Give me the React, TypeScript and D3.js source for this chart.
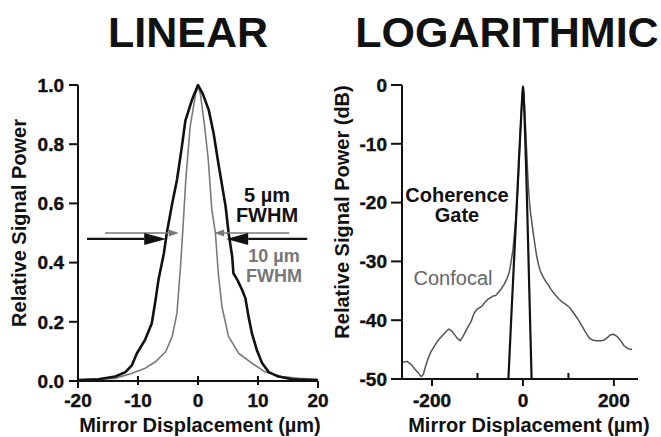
import * as d3 from "d3";

// left panel: normalised signal vs mirror displacement (µm)
const linBlack: [number, number][] = [
  [-20, 0.003], [-16.6, 0.006], [-13.8, 0.015], [-12.1, 0.03], [-11, 0.054], [-10.2, 0.093],
  [-8.8, 0.14], [-7.7, 0.195], [-7.1, 0.27], [-6.6, 0.34], [-5.7, 0.43], [-5.2, 0.5],
  [-4.3, 0.6], [-3.5, 0.68], [-2.7, 0.79], [-2.1, 0.88], [-1.0, 0.95], [0, 1.0],
  [0.8, 0.97], [1.8, 0.915], [2.6, 0.837], [3.4, 0.735], [4.6, 0.59], [5.1, 0.5],
  [5.7, 0.42], [5.9, 0.364], [6.6, 0.34], [7.3, 0.31], [7.9, 0.28], [8.4, 0.22], [9.0, 0.16],
  [9.8, 0.105], [10.7, 0.06], [11.8, 0.03], [13.4, 0.015], [15.7, 0.006], [20, 0.002],
];
const linGray: [number, number][] = [
  [-20, 0.003], [-13.8, 0.009], [-11, 0.026], [-8.8, 0.043], [-7.1, 0.065], [-5.4, 0.099],
  [-4.3, 0.15], [-3.5, 0.23], [-2.9, 0.39], [-2.5, 0.52], [-2.0, 0.69], [-1.3, 0.86],
  [-0.4, 0.97], [0, 0.995], [0.4, 0.97], [1.1, 0.86], [1.7, 0.75], [2.3, 0.58], [2.9, 0.5],
  [3.4, 0.36], [4.0, 0.25], [5.1, 0.15], [6.8, 0.093], [9.0, 0.06], [11.2, 0.03],
  [14, 0.015], [16.8, 0.009], [20, 0.006],
];
// FWHM arrows: [tail x, tip x, y]
const blackArrows: [number, number, number][] = [[-18.5, -5.3, 0.48], [18.2, 4.7, 0.48]];
const grayArrows: [number, number, number][] = [[-15.5, -3.2, 0.5], [15.2, 2.7, 0.5]];

// right panel: dB vs mirror displacement (µm)
const confocal: [number, number][] = [
  [-266, -47.2], [-255, -47.0], [-245, -47.6], [-238, -48.3], [-230, -49.0], [-224, -49.6],
  [-219, -49.2], [-214, -47.8], [-208, -46.4], [-202, -45.3], [-196, -44.6], [-190, -43.8],
  [-184, -43.2], [-177, -42.6], [-170, -42.0], [-163, -41.5], [-157, -41.8], [-150, -42.5],
  [-144, -43.1], [-138, -43.5], [-132, -42.8], [-126, -41.9], [-120, -41.0], [-114, -40.2],
  [-108, -38.9], [-102, -38.2], [-96, -37.9], [-90, -37.6], [-84, -37.0], [-78, -36.5],
  [-72, -36.2], [-66, -35.9], [-60, -35.8], [-54, -35.3], [-48, -34.7], [-42, -34.0],
  [-36, -33.1], [-30, -31.8], [-26, -30.0], [-22, -28.0], [-19, -25.5], [-16, -23.0],
  [-14, -21.0], [-12, -18.5], [-10, -15.5], [-8, -12.0], [-6, -8.5], [-4, -5.0], [-2, -2.0],
  [0, -0.2], [1, -0.5], [3, -3.0], [5, -6.0], [7, -9.5], [9, -12.5], [11, -16.0],
  [13, -18.5], [15, -20.5], [18, -22.5], [22, -24.8], [26, -27.0], [30, -29.0], [34, -30.5],
  [38, -31.6], [44, -32.6], [50, -33.4], [56, -34.0], [62, -34.8], [70, -35.6], [78, -36.3],
  [86, -36.9], [94, -37.3], [102, -37.8], [110, -38.6], [118, -39.5], [124, -40.2],
  [130, -41.0], [136, -41.8], [142, -42.6], [148, -43.2], [155, -43.4], [162, -43.5],
  [170, -43.5], [178, -43.4], [185, -43.0], [192, -42.5], [198, -42.4], [204, -42.6],
  [210, -43.0], [216, -43.6], [222, -44.3], [228, -44.7], [234, -44.9], [240, -45.0],
];
const coherence: [number, number][] = [
  [-32, -50], [-26, -40], [-20, -30.5], [-14, -21], [-9, -13], [-5, -7], [-2, -2.5], [0, -0.3],
  [1.5, -1.5], [3, -4.5], [5, -9], [8, -17], [11, -26], [14, -35], [17, -44], [19, -50],
];

const linXTicks = [-20, -10, 0, 10, 20];
const linYTicks = [0, 0.2, 0.4, 0.6, 0.8, 1.0];
const logXMajor = [-200, 0, 200];
const logXMinor = [-100, 100];
const logYTicks = [0, -10, -20, -30, -40, -50];

const FONT = "'Liberation Sans', Arial, Helvetica, sans-serif";

const Arrow = ({ x1, x2, y, color, len, half, width }: any) => {
  const dir = x2 > x1 ? 1 : -1;
  const base = x2 - dir * len;
  return (
    <g>
      <line x1={x1} y1={y} x2={base} y2={y} stroke={color} strokeWidth={width} />
      <polygon points={`${x2},${y} ${base},${y - half} ${base},${y + half}`} fill={color} />
    </g>
  );
};

export default function App() {
  const lx = d3.scaleLinear().domain([-20, 20]).range([78, 318]);
  const ly = d3.scaleLinear().domain([0, 1]).range([381, 85]);
  const rx = d3.scaleLinear().domain([-266, 253]).range([402, 638]);
  const ry = d3.scaleLinear().domain([-50, 0]).range([379, 85]);

  const lLine = d3.line<[number, number]>().x((d) => lx(d[0])).y((d) => ly(d[1]));
  const rLine = d3.line<[number, number]>().x((d) => rx(d[0])).y((d) => ry(d[1]));

  const tick = {
    fontFamily: FONT, fontWeight: 700, fontSize: 19, fill: "#111",
    stroke: "#111", strokeWidth: 0.4,
  };
  const title = { fontFamily: FONT, fontWeight: 700, fontSize: 20, fill: "#111" };

  return (
    <svg
      width={661}
      height={437}
      style={{ position: "absolute", left: 0, top: 0, background: "#fff" }}
    >
      <text x={188} y={47} textAnchor="middle" style={{ ...title, fontSize: 43 }}>LINEAR</text>
      <text x={507} y={47} textAnchor="middle" style={{ ...title, fontSize: 43 }}>LOGARITHMIC</text>

      {/* left panel */}
      <path d={lLine(linGray)!} fill="none" stroke="#7a7a7a" strokeWidth={1.6} />
      <path d={lLine(linBlack)!} fill="none" stroke="#111" strokeWidth={2.6} strokeLinejoin="round" />
      {grayArrows.map((a, i) => (
        <Arrow key={"g" + i} x1={lx(a[0])} x2={lx(a[1])} y={ly(a[2])} color="#777" len={10} half={3.5} width={1.6} />
      ))}
      {blackArrows.map((a, i) => (
        <Arrow key={"b" + i} x1={lx(a[0])} x2={lx(a[1])} y={ly(a[2])} color="#111" len={22} half={6} width={2.2} />
      ))}
      <line x1={78} y1={ly(1)} x2={78} y2={381} stroke="#111" strokeWidth={2} />
      <line x1={77} y1={381} x2={318} y2={381} stroke="#111" strokeWidth={2} />
      {linYTicks.map((t) => (
        <g key={t}>
          <line x1={69} x2={78} y1={ly(t)} y2={ly(t)} stroke="#111" strokeWidth={2} />
          <text x={64} y={ly(t)} dy="0.36em" textAnchor="end" style={tick}>{d3.format(".1f")(t)}</text>
        </g>
      ))}
      {linXTicks.map((t) => (
        <g key={t}>
          <line x1={lx(t)} x2={lx(t)} y1={Math.abs(t) === 20 ? 381 : 376} y2={Math.abs(t) === 20 ? 388 : 385} stroke="#111" strokeWidth={2} />
          <text x={lx(t)} y={407} textAnchor="middle" style={tick}>{t}</text>
        </g>
      ))}
      <text x={200} y={432} textAnchor="middle" style={title}>Mirror Displacement (µm)</text>
      <text transform="translate(26,223) rotate(-90)" textAnchor="middle" style={title}>Relative Signal Power</text>
      <text x={267} y={202} textAnchor="middle" style={title}>5 µm</text>
      <text x={267} y={222} textAnchor="middle" style={title}>FWHM</text>
      <text x={274} y={262} textAnchor="middle" style={{ ...title, fontSize: 18, fill: "#777" }}>10 µm</text>
      <text x={274} y={282} textAnchor="middle" style={{ ...title, fontSize: 18, fill: "#777" }}>FWHM</text>

      {/* right panel */}
      <path d={rLine(confocal)!} fill="none" stroke="#555" strokeWidth={1.5} strokeLinejoin="round" />
      <path d={rLine(coherence)!} fill="none" stroke="#111" strokeWidth={2.2} strokeLinejoin="round" />
      <line x1={402} y1={ry(0)} x2={402} y2={379} stroke="#111" strokeWidth={2} />
      <line x1={401} y1={379} x2={638} y2={379} stroke="#111" strokeWidth={2} />
      {logYTicks.map((t) => (
        <g key={t}>
          <line x1={391} x2={402} y1={ry(t)} y2={ry(t)} stroke="#111" strokeWidth={2} />
          <text x={387} y={ry(t)} dy="0.36em" textAnchor="end" style={tick}>{t}</text>
        </g>
      ))}
      {logXMajor.map((t) => (
        <g key={t}>
          <line x1={rx(t)} x2={rx(t)} y1={379} y2={386} stroke="#111" strokeWidth={2} />
          <text x={rx(t)} y={407} textAnchor="middle" style={tick}>{t}</text>
        </g>
      ))}
      {logXMinor.map((t) => (
        <line key={t} x1={rx(t)} x2={rx(t)} y1={379} y2={373} stroke="#111" strokeWidth={2} />
      ))}
      <text x={529} y={432} textAnchor="middle" style={title}>Mirror Displacement (µm)</text>
      <text transform="translate(349,212) rotate(-90)" textAnchor="middle" style={title}>Relative Signal Power (dB)</text>
      <text x={457} y={202} textAnchor="middle" style={title}>Coherence</text>
      <text x={457} y={222} textAnchor="middle" style={title}>Gate</text>
      <text x={453} y={285} textAnchor="middle" style={{ ...title, fontWeight: 400, fill: "#666" }}>Confocal</text>
    </svg>
  );
}
